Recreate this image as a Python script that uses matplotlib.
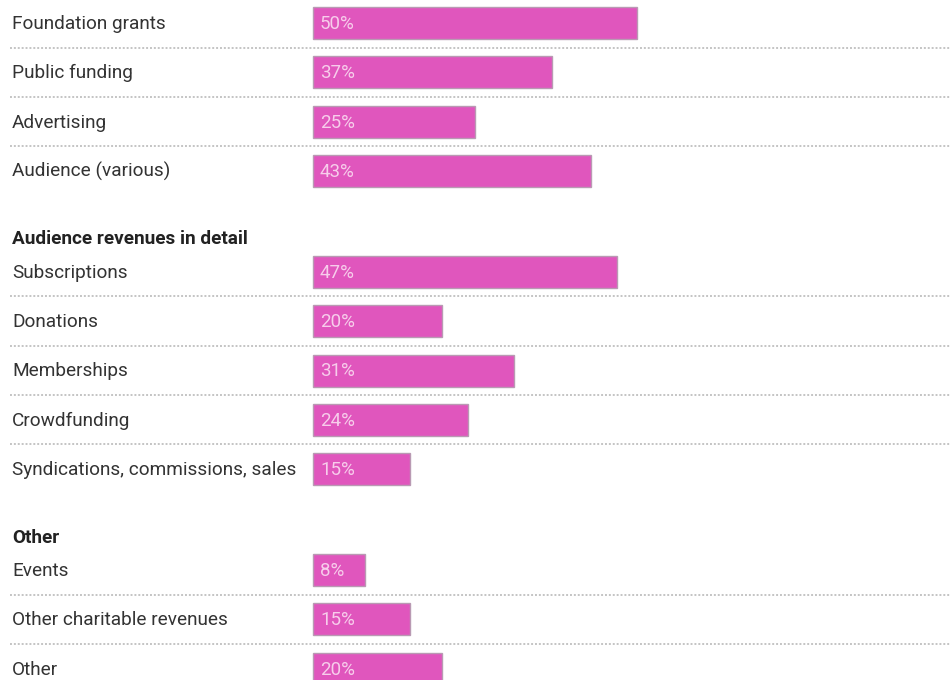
import matplotlib
matplotlib.use("Agg")
import matplotlib.pyplot as plt
import matplotlib.transforms as mtransforms

plt.rcParams['font.family'] = ['Roboto', 'DejaVu Sans']

# revenue sources, share of outlets (%)
main_labels = ['Foundation grants', 'Public funding', 'Advertising', 'Audience (various)']
main_values = [50, 37, 25, 43]

audience_title = 'Audience revenues in detail'
audience_labels = ['Subscriptions', 'Donations', 'Memberships', 'Crowdfunding',
                   'Syndications, commissions, sales']
audience_values = [47, 20, 31, 24, 15]

other_title = 'Other'
other_labels = ['Events', 'Other charitable revenues', 'Other']
other_values = [8, 15, 20]

groups = [
    (None, main_labels, main_values),
    (audience_title, audience_labels, audience_values),
    (other_title, other_labels, other_values),
]

# layout (pixels)
W, H = 951, 680
bar_left_px = 313
px_per_pct = 6.47
pitch = 49.3
bar_h = 32
bar_color = '#E056BD'
edge_color = '#B99AB3'

fig = plt.figure(figsize=(W / 100, H / 100), dpi=100)
ax = fig.add_axes([0, 0, 1, 1])
ax.set_xlim(-bar_left_px / px_per_pct, (W - bar_left_px) / px_per_pct)
ax.set_ylim(H, 0)
ax.axis('off')

lab = mtransforms.blended_transform_factory(ax.transAxes, ax.transData)

y = 23
for gi, (title, labels, values) in enumerate(groups):
    if title is not None:
        y += 67 - pitch
        ax.text(12 / W, y + 1.5, title, transform=lab, ha='left', va='center',
                fontsize=13.7, fontweight='bold', color='#222222')
        y += 34
    for i, (name, val) in enumerate(zip(labels, values)):
        ax.barh(y, val, height=bar_h, left=0, color=bar_color,
                edgecolor=edge_color, linewidth=1)
        ax.text(12 / W, y + 1, name, transform=lab, ha='left', va='center',
                fontsize=13.7, color='#333333')
        ax.text(7 / px_per_pct, y + 1, f'{val}%', ha='left', va='center',
                fontsize=13.5, color='#F7CDEB')
        if i < len(labels) - 1:
            ax.axhline(y + 24.5, xmin=10 / W, xmax=1, color='#C4C4C4',
                       linestyle=(0, (1, 1)), linewidth=1.4)
        y += pitch

fig.savefig('out.png', dpi=100)
